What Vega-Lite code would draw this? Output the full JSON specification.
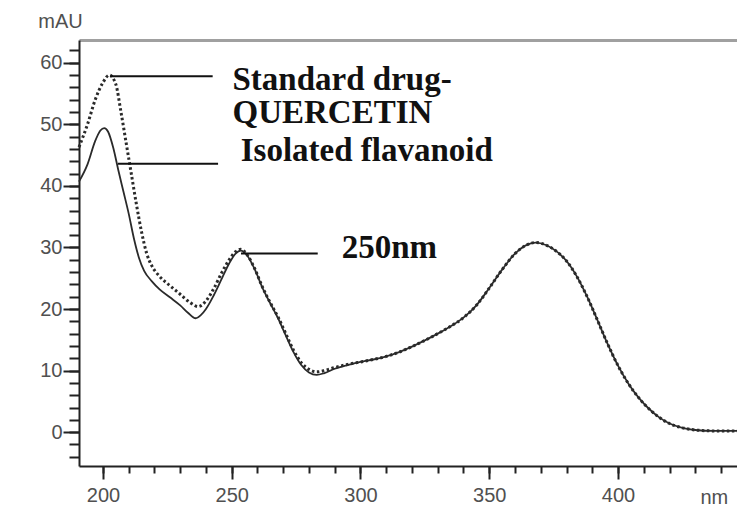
{
  "$schema": "https://vega.github.io/schema/vega-lite/v6.json",
  "autosize": {"type": "none"},
  "padding": {"left": 79, "top": 40, "right": 0, "bottom": 43},
  "width": 658,
  "height": 426,
  "background": "white",
  "config": {
    "view": {"stroke": null},
    "axis": {"grid": false, "labelFont": "Liberation Sans", "titleFont": "Liberation Sans", "labelColor": "#505050", "titleColor": "#505050", "labelFontSize": 20, "titleFontSize": 20, "titleFontWeight": "normal", "domainColor": "#222", "tickColor": "#222", "domainWidth": 2, "tickWidth": 2}
  },
  "datasets": {
    "standard": [
      {"nm": 190.7, "mAU": 46.3}, {"nm": 194, "mAU": 50}, {"nm": 197, "mAU": 54}, {"nm": 200, "mAU": 56.8},
      {"nm": 202.5, "mAU": 58}, {"nm": 205, "mAU": 56.5}, {"nm": 207, "mAU": 52}, {"nm": 209, "mAU": 47},
      {"nm": 211, "mAU": 42}, {"nm": 213, "mAU": 37}, {"nm": 215, "mAU": 32.5}, {"nm": 217, "mAU": 29},
      {"nm": 219, "mAU": 27}, {"nm": 222, "mAU": 25.3}, {"nm": 226, "mAU": 23.8}, {"nm": 230, "mAU": 22.4},
      {"nm": 234, "mAU": 21}, {"nm": 237, "mAU": 20.4}, {"nm": 240, "mAU": 21.3}, {"nm": 243, "mAU": 23.3},
      {"nm": 246, "mAU": 25.8}, {"nm": 249, "mAU": 28}, {"nm": 251.5, "mAU": 29.3}, {"nm": 253.5, "mAU": 29.7},
      {"nm": 256, "mAU": 28.8}, {"nm": 259, "mAU": 26.5}, {"nm": 262, "mAU": 23.5}, {"nm": 265, "mAU": 21},
      {"nm": 268, "mAU": 18.7}, {"nm": 271, "mAU": 16}, {"nm": 274, "mAU": 13.3}, {"nm": 277, "mAU": 11.3},
      {"nm": 280, "mAU": 10.2}, {"nm": 283, "mAU": 9.8}, {"nm": 286, "mAU": 10}, {"nm": 290, "mAU": 10.5},
      {"nm": 295, "mAU": 11}, {"nm": 300, "mAU": 11.4}, {"nm": 305, "mAU": 11.8}, {"nm": 310, "mAU": 12.3},
      {"nm": 315, "mAU": 13}, {"nm": 320, "mAU": 13.9}, {"nm": 325, "mAU": 14.9}, {"nm": 330, "mAU": 16},
      {"nm": 335, "mAU": 17.2}, {"nm": 340, "mAU": 18.6}, {"nm": 345, "mAU": 20.6}, {"nm": 350, "mAU": 23.4},
      {"nm": 355, "mAU": 26.4}, {"nm": 360, "mAU": 29}, {"nm": 364, "mAU": 30.3}, {"nm": 368, "mAU": 30.8},
      {"nm": 372, "mAU": 30.4}, {"nm": 376, "mAU": 29.4}, {"nm": 380, "mAU": 27.8}, {"nm": 384, "mAU": 25.3},
      {"nm": 388, "mAU": 22}, {"nm": 392, "mAU": 18.2}, {"nm": 396, "mAU": 14.3}, {"nm": 400, "mAU": 10.8},
      {"nm": 404, "mAU": 7.9}, {"nm": 408, "mAU": 5.6}, {"nm": 412, "mAU": 3.8}, {"nm": 416, "mAU": 2.4},
      {"nm": 420, "mAU": 1.4}, {"nm": 425, "mAU": 0.7}, {"nm": 430, "mAU": 0.35}, {"nm": 437, "mAU": 0.2},
      {"nm": 446.2, "mAU": 0.2}
    ],
    "isolated": [
      {"nm": 190.7, "mAU": 40.7}, {"nm": 194, "mAU": 43.5}, {"nm": 197, "mAU": 47.3}, {"nm": 199, "mAU": 49},
      {"nm": 200.5, "mAU": 49.4}, {"nm": 202, "mAU": 48.8}, {"nm": 204, "mAU": 46.2}, {"nm": 206, "mAU": 42.5},
      {"nm": 208, "mAU": 39}, {"nm": 210, "mAU": 35.5}, {"nm": 212, "mAU": 31.5}, {"nm": 214, "mAU": 28.3},
      {"nm": 216, "mAU": 26.2}, {"nm": 219, "mAU": 24.5}, {"nm": 222, "mAU": 23.2}, {"nm": 226, "mAU": 21.9},
      {"nm": 230, "mAU": 20.6}, {"nm": 233, "mAU": 19.4}, {"nm": 236, "mAU": 18.5}, {"nm": 238, "mAU": 19},
      {"nm": 240, "mAU": 20}, {"nm": 243, "mAU": 22.2}, {"nm": 246, "mAU": 24.8}, {"nm": 249, "mAU": 27.4},
      {"nm": 251.5, "mAU": 29}, {"nm": 253.5, "mAU": 29.5}, {"nm": 256, "mAU": 28.7}, {"nm": 259, "mAU": 26.4},
      {"nm": 262, "mAU": 23.4}, {"nm": 265, "mAU": 20.9}, {"nm": 268, "mAU": 18.5}, {"nm": 271, "mAU": 15.7},
      {"nm": 274, "mAU": 13}, {"nm": 277, "mAU": 10.9}, {"nm": 280, "mAU": 9.7}, {"nm": 283, "mAU": 9.3},
      {"nm": 286, "mAU": 9.6}, {"nm": 290, "mAU": 10.3}, {"nm": 295, "mAU": 10.9}, {"nm": 300, "mAU": 11.4},
      {"nm": 305, "mAU": 11.8}, {"nm": 310, "mAU": 12.3}, {"nm": 315, "mAU": 13}, {"nm": 320, "mAU": 13.9},
      {"nm": 325, "mAU": 14.9}, {"nm": 330, "mAU": 16}, {"nm": 335, "mAU": 17.2}, {"nm": 340, "mAU": 18.6},
      {"nm": 345, "mAU": 20.6}, {"nm": 350, "mAU": 23.4}, {"nm": 355, "mAU": 26.4}, {"nm": 360, "mAU": 29},
      {"nm": 364, "mAU": 30.3}, {"nm": 368, "mAU": 30.8}, {"nm": 372, "mAU": 30.4}, {"nm": 376, "mAU": 29.4},
      {"nm": 380, "mAU": 27.8}, {"nm": 384, "mAU": 25.3}, {"nm": 388, "mAU": 22}, {"nm": 392, "mAU": 18.2},
      {"nm": 396, "mAU": 14.3}, {"nm": 400, "mAU": 10.8}, {"nm": 404, "mAU": 7.9}, {"nm": 408, "mAU": 5.6},
      {"nm": 412, "mAU": 3.8}, {"nm": 416, "mAU": 2.4}, {"nm": 420, "mAU": 1.4}, {"nm": 425, "mAU": 0.7},
      {"nm": 430, "mAU": 0.35}, {"nm": 437, "mAU": 0.2}, {"nm": 446.2, "mAU": 0.2}
    ],
    "leaders": [
      {"nm": 202.8, "nm2": 242.6, "mAU": 57.8},
      {"nm": 205.8, "nm2": 244.7, "mAU": 43.6},
      {"nm": 253.6, "nm2": 283.4, "mAU": 29}
    ],
    "notes": [
      {"nm": 250.3, "mAU": 55.6, "text": "Standard drug-"},
      {"nm": 250.3, "mAU": 50.2, "text": "QUERCETIN"},
      {"nm": 253.5, "mAU": 44.1, "text": "Isolated flavanoid"},
      {"nm": 292.7, "mAU": 28.3, "text": "250nm"}
    ]
  },
  "resolve": {"axis": {"x": "independent", "y": "independent"}},
  "layer": [
    {
      "data": {"name": "isolated"},
      "mark": {"type": "line", "interpolate": "monotone", "color": "#2a2a2a", "strokeWidth": 1.8},
      "encoding": {
        "x": {"field": "nm", "type": "quantitative", "scale": {"domain": [190.7, 446.2], "nice": false, "zero": false},
          "axis": {"orient": "bottom", "values": [200, 250, 300, 350, 400], "tickSize": 13, "labelPadding": 6, "title": "nm", "titleAnchor": "start", "titleAlign": "left", "titleX": 621, "titleY": 31, "titleBaseline": "middle", "labelFlush": false}},
        "y": {"field": "mAU", "type": "quantitative", "scale": {"domain": [-5.5, 63.7], "nice": false, "zero": false},
          "axis": {"orient": "left", "values": [0, 10, 20, 30, 40, 50, 60], "tickSize": 16, "labelPadding": 1, "title": "mAU", "titleAngle": 0, "titleAlign": "center", "titleBaseline": "middle", "titleX": -19, "titleY": -19}}
      }
    },
    {
      "data": {"name": "standard"},
      "mark": {"type": "line", "interpolate": "monotone", "color": "#2a2a2a", "strokeWidth": 3, "strokeDash": [2.5, 2.5]},
      "encoding": {
        "x": {"field": "nm", "type": "quantitative",
          "axis": {"orient": "bottom", "values": [200, 210, 220, 230, 240, 250, 260, 270, 280, 290, 300, 310, 320, 330, 340, 350, 360, 370, 380, 390, 400, 410, 420, 430, 440], "tickSize": 7, "labels": false, "domain": false, "title": null}},
        "y": {"field": "mAU", "type": "quantitative",
          "axis": {"orient": "left", "values": [-4, -2, 0, 2, 4, 6, 8, 10, 12, 14, 16, 18, 20, 22, 24, 26, 28, 30, 32, 34, 36, 38, 40, 42, 44, 46, 48, 50, 52, 54, 56, 58, 60, 62], "tickSize": 10, "labels": false, "domain": false, "title": null}}
      }
    },
    {
      "data": {"name": "leaders"},
      "mark": {"type": "rule", "color": "#111", "strokeWidth": 2},
      "encoding": {
        "x": {"field": "nm", "type": "quantitative",
          "axis": {"orient": "top", "ticks": false, "labels": false, "title": null, "domainColor": "#a0a0a0", "domainWidth": 3}},
        "x2": {"field": "nm2"},
        "y": {"field": "mAU", "type": "quantitative", "axis": null}
      }
    },
    {
      "data": {"name": "notes"},
      "mark": {"type": "text", "font": "Liberation Serif", "fontWeight": "bold", "fontSize": 33, "align": "left", "baseline": "alphabetic", "color": "#111"},
      "encoding": {
        "x": {"field": "nm", "type": "quantitative", "axis": null},
        "y": {"field": "mAU", "type": "quantitative", "axis": null},
        "text": {"field": "text"}
      }
    }
  ]
}
